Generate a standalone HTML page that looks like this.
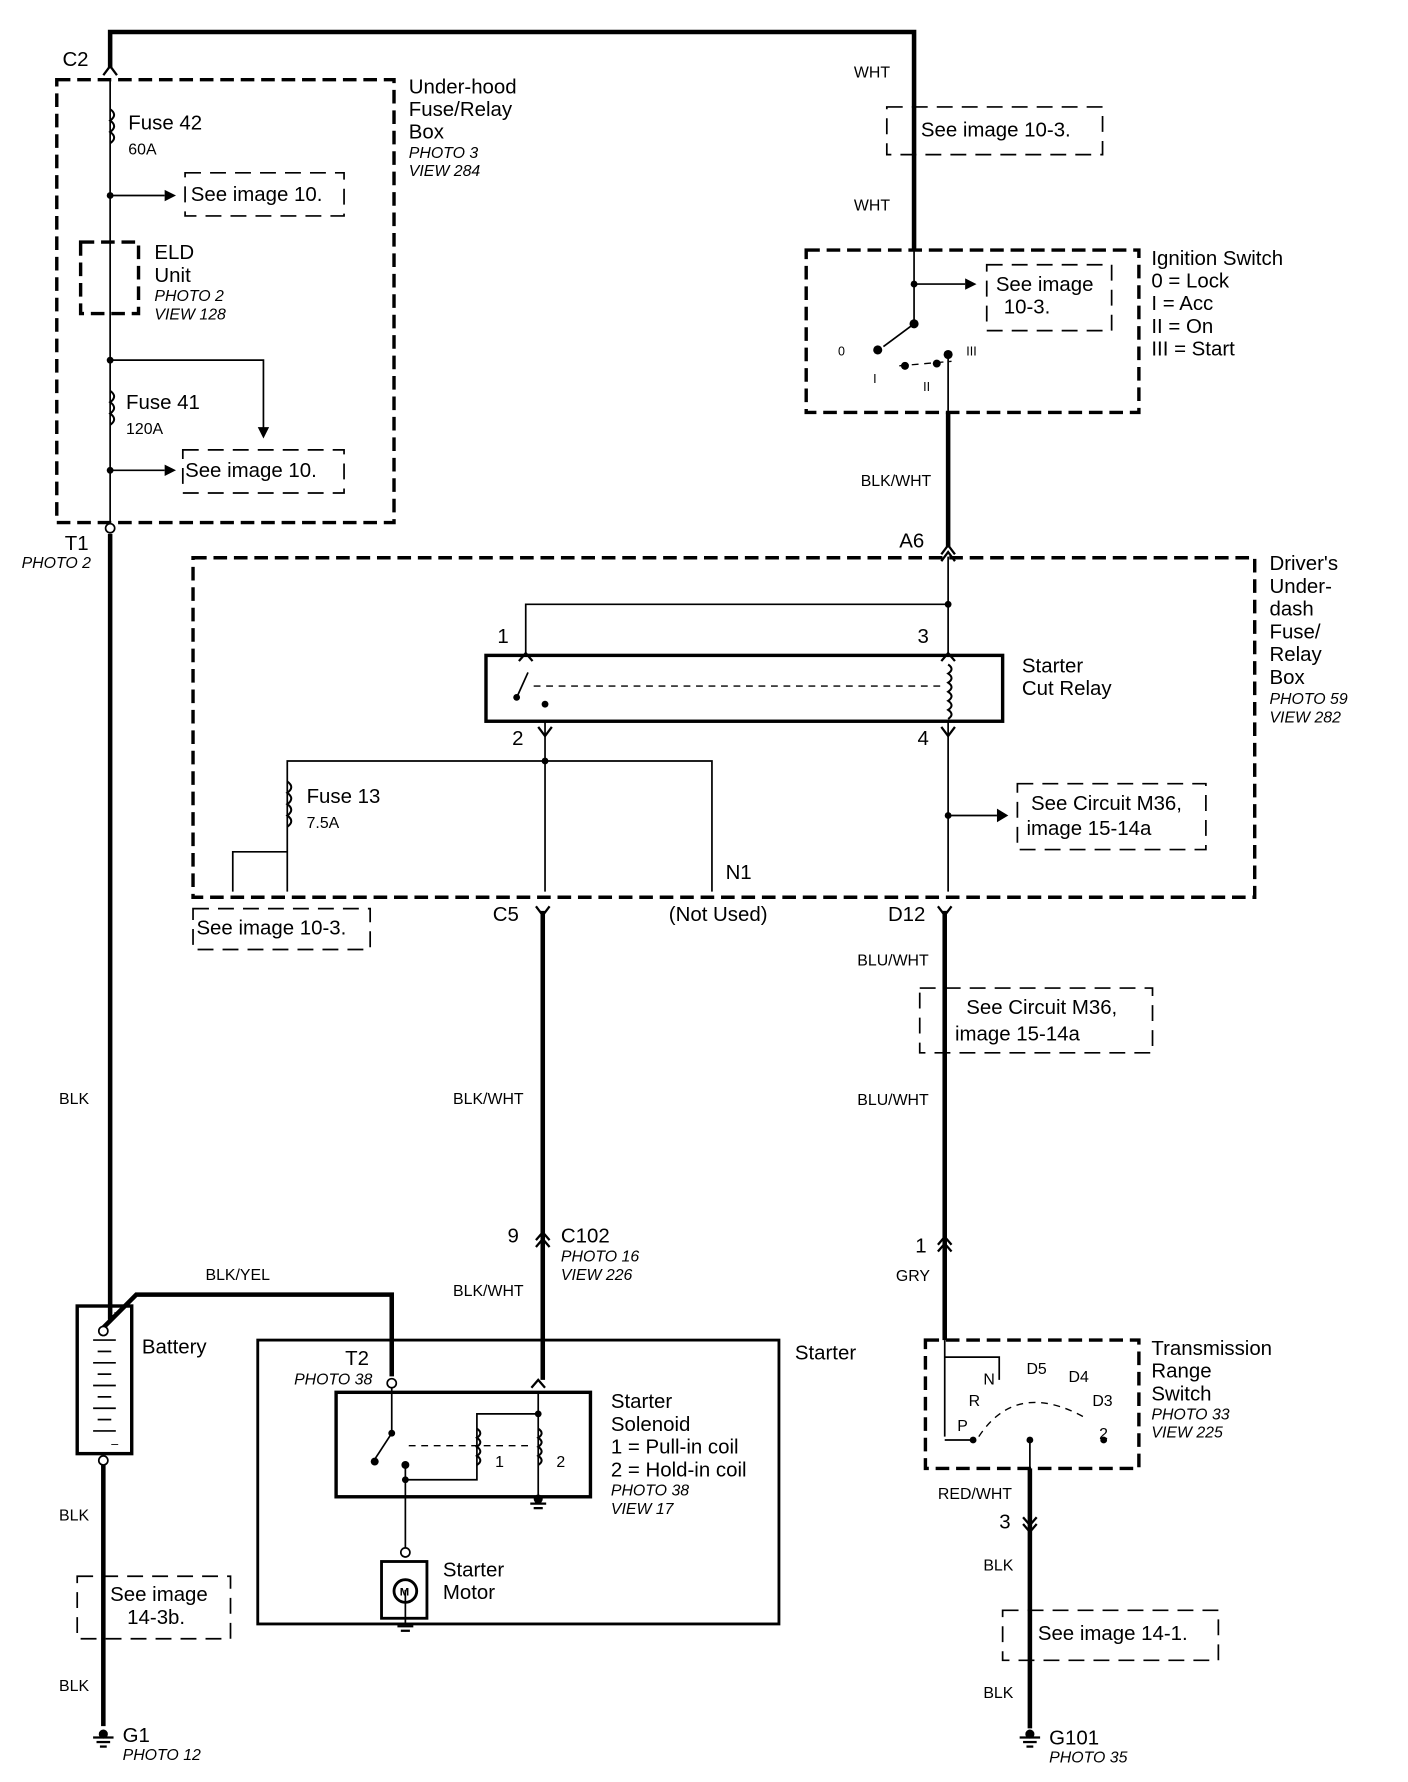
<!DOCTYPE html>
<html><head><meta charset="utf-8"><style>
html,body{margin:0;padding:0;background:#fff}
svg{display:block}
text{font-family:"Liberation Sans",sans-serif;fill:#000}
.s{font-size:18px}.m{font-size:14px}.i{font-size:14px;font-style:italic}.x{font-size:11px}
</style></head><body>
<svg width="1408" height="1782" viewBox="0 0 1240 1569" xmlns="http://www.w3.org/2000/svg">
<g fill="none" stroke="#000">
<g stroke-width="3" stroke-dasharray="12,6">
<rect x="50" y="70" width="297" height="390"/>
<rect x="710" y="220" width="293" height="143"/>
<rect x="170" y="491" width="935" height="299"/>
<rect x="815" y="1180" width="188" height="113"/>
<rect x="71" y="213" width="51" height="63"/>
</g>
<g stroke-width="1.5" stroke-dasharray="14,8">
<rect x="163" y="152" width="140" height="38"/>
<rect x="161" y="396" width="142" height="38"/>
<rect x="781" y="94" width="190" height="42"/>
<rect x="869" y="233" width="110" height="58"/>
<rect x="896" y="690" width="166" height="58"/>
<rect x="170" y="800" width="156" height="36"/>
<rect x="810" y="870" width="205" height="57"/>
<rect x="68" y="1388" width="135" height="55"/>
<rect x="883" y="1418" width="190" height="44"/>
</g>
<g stroke-width="4">
<polyline points="97,60 97,28 805,28 805,220"/>
<line x1="97" y1="470" x2="97" y2="1162"/>
<polyline points="90,1170 120,1140 345,1140 345,1212"/>
<line x1="91" y1="1285" x2="91" y2="1520"/>
<line x1="835" y1="363" x2="835" y2="482"/>
<line x1="478" y1="802" x2="478" y2="1215"/>
<line x1="832" y1="802" x2="832" y2="1180"/>
<line x1="907" y1="1293" x2="907" y2="1522"/>
</g>
<g stroke-width="1.5">
<line x1="97" y1="70" x2="97" y2="462"/>
<line x1="97" y1="172" x2="145" y2="172"/>
<polyline points="97,317 232,317 232,380"/>
<line x1="97" y1="414" x2="145" y2="414"/>
<line x1="805" y1="220" x2="805" y2="285"/>
<line x1="805" y1="250" x2="850" y2="250"/>
<line x1="805" y1="285" x2="778" y2="305"/>
<line x1="835" y1="312" x2="835" y2="363"/>
<line x1="835" y1="490" x2="835" y2="577"/>
<polyline points="835,532 463,532 463,577"/>
<line x1="480" y1="635" x2="480" y2="785"/>
<line x1="835" y1="635" x2="835" y2="785"/>
<polyline points="253,785 253,670 627,670 627,785"/>
<polyline points="205,785 205,750 253,750"/>
<line x1="835" y1="718" x2="878" y2="718"/>
<line x1="832" y1="1180" x2="832" y2="1265"/>
<polyline points="832,1195 880,1195 880,1215"/>
<line x1="907" y1="1268" x2="907" y2="1293"/>
<polyline points="857,1268 832,1268"/>
<line x1="345" y1="1222" x2="345" y2="1262"/>
<line x1="345" y1="1262" x2="330" y2="1285"/>
<line x1="357" y1="1290" x2="357" y2="1365"/>
<polyline points="357,1303 420,1303 420,1245 474,1245"/>
<line x1="474" y1="1226" x2="474" y2="1322"/>
<line x1="357" y1="1400" x2="357" y2="1430"/>
<line x1="465" y1="592" x2="456" y2="612"/>
</g>
<rect x="428" y="577" width="455" height="58" stroke-width="3"/>
<rect x="296" y="1226" width="224" height="92" stroke-width="3"/>
<rect x="227" y="1180" width="459" height="250" stroke-width="2.5"/>
<rect x="336" y="1375" width="40" height="50" stroke-width="2.5"/>
<circle cx="357" cy="1401" r="10" stroke-width="2.5"/>
<rect x="68" y="1150" width="48" height="130" stroke-width="3"/>
<g stroke-width="1.2" stroke-dasharray="6,5">
<line x1="470" y1="604" x2="830" y2="604"/>
<line x1="360" y1="1273" x2="470" y2="1273"/>
<path d="M792,322 L838,318"/>
<path d="M862,1265 Q895,1215 955,1248"/>
</g>
<g stroke-width="1.8">
<path d="M97,96 q7,5 0,10 q7,5 0,10 q7,5 0,10"/>
<path d="M97,344 q7,5 0,10 q7,5 0,10 q7,5 0,10"/>
<path d="M253,688 q7,5 0,10 q7,5 0,10 q7,5 0,10 q7,5 0,10"/>
<path d="M835,585 q6,4 0,8 q6,4 0,8 q6,4 0,8 q6,4 0,8 q6,4 0,8 q6,4 0,8"/>
<path d="M420,1258 q6,4 0,8 q6,4 0,8 q6,4 0,8 q6,4 0,8"/>
<path d="M474,1258 q6,4 0,8 q6,4 0,8 q6,4 0,8 q6,4 0,8"/>
</g>
<g stroke-width="1.5">
<line x1="82" y1="1180" x2="102" y2="1180"/><line x1="86" y1="1190" x2="98" y2="1190"/>
<line x1="82" y1="1200" x2="102" y2="1200"/><line x1="86" y1="1210" x2="98" y2="1210"/>
<line x1="82" y1="1220" x2="102" y2="1220"/><line x1="86" y1="1230" x2="98" y2="1230"/>
<line x1="82" y1="1240" x2="102" y2="1240"/><line x1="86" y1="1250" x2="98" y2="1250"/>
<line x1="82" y1="1260" x2="102" y2="1260"/>
</g>
<g stroke-width="2">
<polyline points="91,66 97,58 103,66"/>
<polyline points="829,488 835,480 841,488"/>
<polyline points="829,494 835,486 841,494"/>
<polyline points="457,582 463,575 469,582"/>
<polyline points="829,582 835,575 841,582"/>
<polyline points="474,640 480,648 486,640"/>
<polyline points="829,640 835,648 841,640"/>
<polyline points="472,798 478,806 484,798"/>
<polyline points="826,798 832,806 838,798"/>
<polyline points="472,1092 478,1085 484,1092"/><polyline points="472,1098 478,1091 484,1098"/>
<polyline points="826,1096 832,1089 838,1096"/><polyline points="826,1102 832,1095 838,1102"/>
<polyline points="901,1336 907,1343 913,1336"/><polyline points="901,1342 907,1349 913,1342"/>
<polyline points="468,1222 474,1215 480,1222"/>
</g>
<g stroke-width="2">
<line x1="82" y1="1530" x2="100" y2="1530"/><line x1="85" y1="1534" x2="97" y2="1534"/><line x1="88" y1="1538" x2="94" y2="1538"/>
<line x1="898" y1="1530" x2="916" y2="1530"/><line x1="901" y1="1534" x2="913" y2="1534"/><line x1="904" y1="1538" x2="910" y2="1538"/>
<line x1="467" y1="1324" x2="481" y2="1324"/><line x1="470" y1="1328" x2="478" y2="1328"/>
<line x1="350" y1="1432" x2="364" y2="1432"/><line x1="353" y1="1436" x2="361" y2="1436"/>
</g>
<g fill="#fff" stroke-width="1.5">
<circle cx="97" cy="465" r="4"/><circle cx="91" cy="1172" r="4"/><circle cx="91" cy="1286" r="4"/>
<circle cx="345" cy="1218" r="4"/><circle cx="357" cy="1367" r="4"/>
</g>
</g>
<g fill="#000">
<path d="M145,167 L155,172 L145,177Z"/><path d="M145,409 L155,414 L145,419Z"/>
<path d="M227,376 L232,386 L237,376Z"/><path d="M850,245 L860,250 L850,255Z"/>
<path d="M878,712 L888,718 L878,724Z"/>
<circle cx="97" cy="172" r="3"/><circle cx="97" cy="317" r="3"/><circle cx="97" cy="414" r="3"/>
<circle cx="805" cy="250" r="3"/><circle cx="805" cy="285" r="4"/><circle cx="773" cy="308" r="4"/>
<circle cx="797" cy="322" r="3.5"/><circle cx="825" cy="320" r="3.5"/><circle cx="835" cy="312" r="4"/>
<circle cx="835" cy="532" r="3"/><circle cx="480" cy="670" r="3"/><circle cx="835" cy="718" r="3"/>
<circle cx="455" cy="614" r="3"/><circle cx="480" cy="620" r="3"/>
<circle cx="345" cy="1262" r="3"/><circle cx="330" cy="1287" r="3.5"/><circle cx="357" cy="1290" r="3.5"/><circle cx="357" cy="1303" r="3"/><circle cx="474" cy="1245" r="3"/><circle cx="474" cy="1320" r="4"/>
<circle cx="857" cy="1268" r="3"/><circle cx="907" cy="1268" r="3"/><circle cx="972" cy="1268" r="3"/>
<circle cx="91" cy="1527" r="4"/><circle cx="907" cy="1527" r="4"/>
</g>
<text class="s" x="55" y="58">C2</text>
<text class="s" x="360" y="82">Under-hood</text><text class="s" x="360" y="102">Fuse/Relay</text><text class="s" x="360" y="122">Box</text>
<text class="i" x="360" y="139">PHOTO 3</text><text class="i" x="360" y="155">VIEW 284</text>
<text class="s" x="113" y="114">Fuse 42</text><text class="m" x="113" y="136">60A</text>
<text class="s" x="168" y="177">See image 10.</text>
<text class="s" x="136" y="228">ELD</text><text class="s" x="136" y="248">Unit</text>
<text class="i" x="136" y="265">PHOTO 2</text><text class="i" x="136" y="281">VIEW 128</text>
<text class="s" x="111" y="360">Fuse 41</text><text class="m" x="111" y="382">120A</text>
<text class="s" x="163" y="420">See image 10.</text>
<text class="s" x="57" y="484">T1</text><text class="i" x="19" y="500">PHOTO 2</text>
<text class="m" x="752" y="68">WHT</text><text class="s" x="811" y="120">See image 10-3.</text>
<text class="m" x="752" y="185">WHT</text>
<text class="s" x="1014" y="233">Ignition Switch</text><text class="s" x="1014" y="253">0  = Lock</text><text class="s" x="1014" y="273">I   = Acc</text><text class="s" x="1014" y="293">II  = On</text><text class="s" x="1014" y="313">III = Start</text>
<text class="s" x="877" y="256">See image</text><text class="s" x="884" y="276">10-3.</text>
<text class="x" x="738" y="313">0</text><text class="x" x="769" y="337">I</text><text class="x" x="813" y="344">II</text><text class="x" x="851" y="313">III</text>
<text class="m" x="758" y="428">BLK/WHT</text>
<text class="s" x="792" y="482">A6</text>
<text class="s" x="1118" y="502">Driver's</text><text class="s" x="1118" y="522">Under-</text><text class="s" x="1118" y="542">dash</text><text class="s" x="1118" y="562">Fuse/</text><text class="s" x="1118" y="582">Relay</text><text class="s" x="1118" y="602">Box</text>
<text class="i" x="1118" y="620">PHOTO 59</text><text class="i" x="1118" y="636">VIEW 282</text>
<text class="s" x="438" y="566">1</text><text class="s" x="808" y="566">3</text>
<text class="s" x="900" y="592">Starter</text><text class="s" x="900" y="612">Cut Relay</text>
<text class="s" x="451" y="656">2</text><text class="s" x="808" y="656">4</text>
<text class="s" x="270" y="707">Fuse 13</text><text class="m" x="270" y="729">7.5A</text>
<text class="s" x="908" y="713">See Circuit M36,</text><text class="s" x="904" y="735">image 15-14a</text>
<text class="s" x="639" y="774">N1</text>
<text class="s" x="173" y="823">See image 10-3.</text>
<text class="s" x="434" y="811">C5</text><text class="s" x="589" y="811">(Not Used)</text><text class="s" x="782" y="811">D12</text>
<text class="m" x="755" y="850">BLU/WHT</text>
<text class="s" x="851" y="893">See Circuit M36,</text><text class="s" x="841" y="916">image 15-14a</text>
<text class="m" x="52" y="972">BLK</text><text class="m" x="399" y="972">BLK/WHT</text><text class="m" x="755" y="973">BLU/WHT</text>
<text class="s" x="447" y="1094">9</text><text class="s" x="494" y="1094">C102</text>
<text class="i" x="494" y="1111">PHOTO 16</text><text class="i" x="494" y="1127">VIEW 226</text>
<text class="s" x="806" y="1103">1</text><text class="m" x="789" y="1128">GRY</text>
<text class="m" x="181" y="1127">BLK/YEL</text><text class="m" x="399" y="1141">BLK/WHT</text>
<text class="s" x="125" y="1192">Battery</text>
<text class="s" x="700" y="1197">Starter</text>
<text class="s" x="304" y="1202">T2</text><text class="i" x="259" y="1219">PHOTO 38</text>
<text class="s" x="538" y="1240">Starter</text><text class="s" x="538" y="1260">Solenoid</text>
<text class="s" x="538" y="1280">1 =  Pull-in coil</text><text class="s" x="538" y="1300">2 =  Hold-in coil</text>
<text class="i" x="538" y="1317">PHOTO 38</text><text class="i" x="538" y="1333">VIEW 17</text>
<text class="m" x="436" y="1292">1</text><text class="m" x="490" y="1292">2</text>
<text class="s" x="1014" y="1193">Transmission</text><text class="s" x="1014" y="1213">Range</text><text class="s" x="1014" y="1233">Switch</text>
<text class="i" x="1014" y="1250">PHOTO 33</text><text class="i" x="1014" y="1266">VIEW 225</text>
<text class="m" x="866" y="1219">N</text><text class="m" x="904" y="1210">D5</text><text class="m" x="941" y="1217">D4</text><text class="m" x="962" y="1238">D3</text><text class="m" x="968" y="1267">2</text><text class="m" x="853" y="1238">R</text><text class="m" x="843" y="1260">P</text>
<text class="m" x="826" y="1320">RED/WHT</text><text class="s" x="880" y="1346">3</text>
<text class="m" x="52" y="1339">BLK</text>
<text class="s" x="97" y="1410">See image</text><text class="s" x="112" y="1430">14-3b.</text>
<text class="s" x="390" y="1388">Starter</text><text class="s" x="390" y="1408">Motor</text>
<text class="m" x="866" y="1383">BLK</text>
<text class="s" x="914" y="1444">See image 14-1.</text>
<text class="m" x="52" y="1489">BLK</text><text class="m" x="866" y="1495">BLK</text>
<text class="s" x="108" y="1534">G1</text><text class="i" x="108" y="1550">PHOTO 12</text>
<text class="s" x="924" y="1536">G101</text><text class="i" x="924" y="1552">PHOTO 35</text>
<text style="font-size:10px;font-weight:bold" x="352" y="1405">M</text>
<text class="x" x="98" y="1162">+</text><text class="x" x="98" y="1275">–</text>
</svg>
</body></html>
